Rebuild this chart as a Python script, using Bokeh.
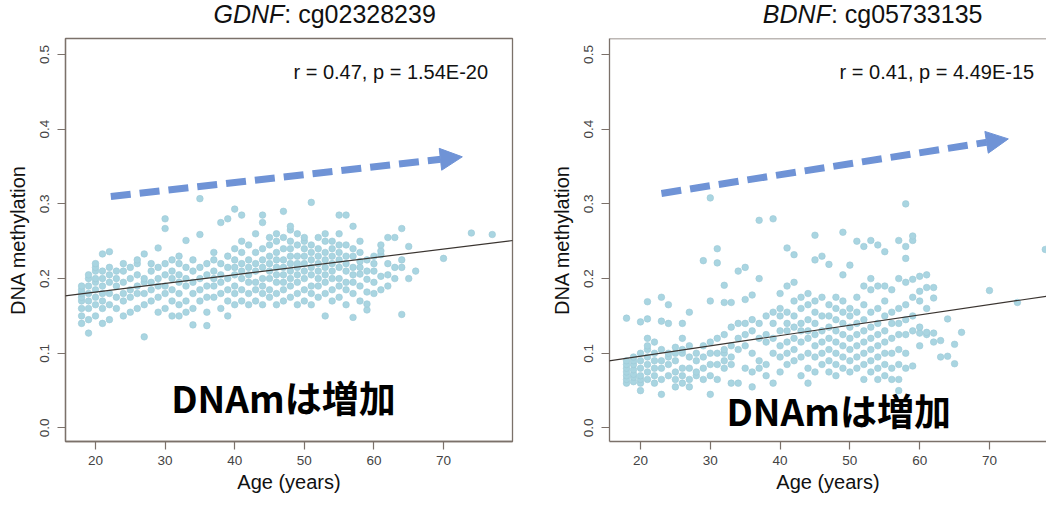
from bokeh.plotting import figure
from bokeh.layouts import row, column
from bokeh.models import (Label, Arrow, NormalHead, Slope, Span, FixedTicker,
                          PrintfTickFormatter, Range1d, ColumnDataSource)
from bokeh.core.properties import value
from bokeh.embed import file_html
from bokeh.resources import INLINE

# ---------------- data ----------------
x_ticks = [20, 30, 40, 50, 60, 70]
y_ticks = [0.0, 0.1, 0.2, 0.3, 0.4, 0.5]

gdnf_gene = "GDNF"
gdnf_probe = ": cg02328239"
gdnf_stats = "r = 0.47, p = 1.54E-20"
gdnf_slope = 0.00115
gdnf_intercept = 0.159
gdnf_ages = [18, 19, 20, 21, 22, 23, 24, 25, 26, 27, 28, 29, 30, 31, 32, 33, 34, 35,
             36, 37, 38, 39, 40, 41, 42, 43, 44, 45, 46, 47, 48, 49, 50, 51, 52, 53,
             54, 55, 56, 57, 58, 59, 60, 61, 62, 63, 64, 65, 66, 70, 74, 77]
gdnf_values = [
    [0.14, 0.15, 0.16, 0.17, 0.175, 0.18, 0.185, 0.19],
    [0.127, 0.145, 0.16, 0.17, 0.18, 0.19, 0.2, 0.205],
    [0.15, 0.165, 0.175, 0.185, 0.195, 0.2, 0.21, 0.215, 0.22],
    [0.14, 0.16, 0.17, 0.18, 0.19, 0.2, 0.21, 0.233],
    [0.145, 0.165, 0.18, 0.195, 0.205, 0.215, 0.236],
    [0.16, 0.175, 0.19, 0.2, 0.21],
    [0.15, 0.17, 0.18, 0.195, 0.21, 0.22],
    [0.155, 0.175, 0.185, 0.2, 0.215],
    [0.16, 0.18, 0.19, 0.205, 0.22, 0.225],
    [0.122, 0.165, 0.18, 0.195, 0.2, 0.233],
    [0.17, 0.185, 0.195, 0.21, 0.22],
    [0.155, 0.175, 0.19, 0.2, 0.215, 0.241],
    [0.16, 0.18, 0.19, 0.205, 0.22, 0.267, 0.28],
    [0.15, 0.17, 0.185, 0.2, 0.21, 0.225],
    [0.15, 0.165, 0.18, 0.195, 0.205, 0.22, 0.23],
    [0.155, 0.17, 0.19, 0.2, 0.215, 0.251],
    [0.138, 0.16, 0.18, 0.195, 0.21, 0.225],
    [0.17, 0.185, 0.2, 0.215, 0.259, 0.307],
    [0.137, 0.155, 0.175, 0.19, 0.205, 0.22],
    [0.175, 0.19, 0.2, 0.21, 0.225, 0.235],
    [0.16, 0.18, 0.195, 0.205, 0.22, 0.275],
    [0.15, 0.17, 0.185, 0.2, 0.215, 0.23, 0.28],
    [0.165, 0.18, 0.19, 0.205, 0.215, 0.225, 0.24, 0.293],
    [0.17, 0.185, 0.2, 0.21, 0.22, 0.235, 0.25, 0.285],
    [0.165, 0.18, 0.195, 0.205, 0.215, 0.225, 0.245],
    [0.17, 0.185, 0.195, 0.21, 0.22, 0.235, 0.26],
    [0.165, 0.18, 0.19, 0.2, 0.215, 0.225, 0.24, 0.275, 0.285],
    [0.175, 0.185, 0.2, 0.21, 0.22, 0.23, 0.245, 0.255],
    [0.165, 0.18, 0.195, 0.205, 0.215, 0.225, 0.235, 0.25, 0.26],
    [0.17, 0.185, 0.195, 0.205, 0.215, 0.225, 0.24, 0.255, 0.29],
    [0.175, 0.19, 0.2, 0.21, 0.22, 0.23, 0.24, 0.25, 0.265, 0.27],
    [0.165, 0.18, 0.195, 0.205, 0.215, 0.22, 0.23, 0.245, 0.26],
    [0.17, 0.185, 0.2, 0.21, 0.22, 0.23, 0.24, 0.25, 0.255],
    [0.165, 0.18, 0.19, 0.205, 0.215, 0.225, 0.235, 0.245, 0.302],
    [0.175, 0.19, 0.2, 0.21, 0.22, 0.23, 0.24, 0.255],
    [0.15, 0.18, 0.195, 0.205, 0.215, 0.225, 0.235, 0.25, 0.26],
    [0.17, 0.185, 0.2, 0.21, 0.22, 0.23, 0.24, 0.25],
    [0.175, 0.19, 0.2, 0.215, 0.225, 0.235, 0.245, 0.26, 0.285],
    [0.165, 0.185, 0.195, 0.21, 0.22, 0.23, 0.245, 0.285],
    [0.148, 0.18, 0.195, 0.205, 0.215, 0.23, 0.24, 0.27],
    [0.17, 0.19, 0.206, 0.215, 0.223, 0.235, 0.25],
    [0.158, 0.166, 0.182, 0.199, 0.21, 0.225],
    [0.18, 0.195, 0.21, 0.22, 0.23],
    [0.185, 0.203, 0.232, 0.237, 0.245],
    [0.19, 0.205, 0.22, 0.255],
    [0.2, 0.215, 0.255],
    [0.152, 0.215, 0.225, 0.267],
    [0.2, 0.243],
    [0.21],
    [0.227],
    [0.261],
    [0.259],
]

bdnf_gene = "BDNF"
bdnf_probe = ": cg05733135"
bdnf_stats = "r = 0.41, p = 4.49E-15"
bdnf_slope = 0.00138
bdnf_intercept = 0.0685
bdnf_ages = [18, 19, 20, 21, 22, 23, 24, 25, 26, 27, 28, 29, 30, 31, 32, 33, 34, 35,
             36, 37, 38, 39, 40, 41, 42, 43, 44, 45, 46, 47, 48, 49, 50, 51, 52, 53,
             54, 55, 56, 57, 58, 59, 60, 61, 62, 63, 64, 65, 66, 70, 74, 78]
bdnf_values = [
    [0.06, 0.065, 0.07, 0.075, 0.08, 0.085, 0.09, 0.147],
    [0.062, 0.068, 0.072, 0.078, 0.085, 0.09, 0.095],
    [0.05, 0.06, 0.065, 0.07, 0.08, 0.09, 0.1, 0.142],
    [0.065, 0.075, 0.085, 0.095, 0.105, 0.11, 0.12, 0.146, 0.169],
    [0.06, 0.07, 0.08, 0.09, 0.1, 0.115],
    [0.045, 0.065, 0.08, 0.09, 0.105, 0.143, 0.175],
    [0.07, 0.085, 0.095, 0.1, 0.14, 0.165],
    [0.055, 0.065, 0.075, 0.09, 0.1, 0.108],
    [0.06, 0.07, 0.08, 0.1, 0.105, 0.12, 0.14],
    [0.055, 0.065, 0.08, 0.095, 0.11, 0.155],
    [0.07, 0.075, 0.09, 0.1],
    [0.065, 0.08, 0.095, 0.11, 0.224],
    [0.045, 0.07, 0.085, 0.1, 0.115, 0.17, 0.308],
    [0.065, 0.085, 0.1, 0.12, 0.221, 0.24],
    [0.08, 0.09, 0.1, 0.105, 0.125, 0.168, 0.191],
    [0.06, 0.085, 0.095, 0.11, 0.135, 0.168],
    [0.06, 0.105, 0.12, 0.14, 0.21],
    [0.08, 0.11, 0.125, 0.14, 0.172, 0.215],
    [0.055, 0.075, 0.1, 0.13, 0.145, 0.178],
    [0.08, 0.09, 0.12, 0.14, 0.2, 0.278],
    [0.07, 0.085, 0.115, 0.125, 0.15],
    [0.06, 0.1, 0.12, 0.14, 0.155, 0.28],
    [0.075, 0.095, 0.11, 0.13, 0.15, 0.16, 0.18],
    [0.085, 0.1, 0.115, 0.13, 0.14, 0.155, 0.19, 0.241],
    [0.09, 0.105, 0.12, 0.135, 0.15, 0.17, 0.195, 0.232],
    [0.07, 0.095, 0.115, 0.13, 0.14, 0.16, 0.175],
    [0.06, 0.08, 0.1, 0.12, 0.13, 0.145, 0.165, 0.18],
    [0.075, 0.095, 0.11, 0.125, 0.14, 0.155, 0.17, 0.225, 0.258],
    [0.085, 0.1, 0.115, 0.13, 0.15, 0.175, 0.23],
    [0.075, 0.09, 0.105, 0.12, 0.135, 0.15, 0.165, 0.219],
    [0.07, 0.085, 0.1, 0.115, 0.13, 0.145, 0.16, 0.175],
    [0.08, 0.095, 0.11, 0.125, 0.14, 0.155, 0.17, 0.205, 0.262],
    [0.075, 0.09, 0.105, 0.12, 0.135, 0.15, 0.16, 0.218],
    [0.08, 0.095, 0.11, 0.125, 0.14, 0.155, 0.175, 0.25],
    [0.065, 0.085, 0.1, 0.115, 0.13, 0.145, 0.165, 0.19, 0.243],
    [0.075, 0.09, 0.105, 0.12, 0.135, 0.155, 0.185, 0.2, 0.251],
    [0.065, 0.08, 0.095, 0.11, 0.125, 0.14, 0.16, 0.19, 0.245],
    [0.07, 0.085, 0.1, 0.115, 0.13, 0.15, 0.17, 0.19, 0.236],
    [0.065, 0.08, 0.1, 0.12, 0.14, 0.155, 0.185],
    [0.05, 0.065, 0.085, 0.105, 0.125, 0.14, 0.16, 0.2, 0.251],
    [0.08, 0.1, 0.125, 0.145, 0.165, 0.195, 0.227, 0.243, 0.3],
    [0.083, 0.13, 0.15, 0.175, 0.199, 0.251, 0.257],
    [0.11, 0.127, 0.135, 0.17, 0.183, 0.203],
    [0.125, 0.128, 0.16, 0.188, 0.205],
    [0.115, 0.127, 0.174, 0.188],
    [0.095, 0.117],
    [0.096, 0.146],
    [0.086, 0.112],
    [0.128],
    [0.184],
    [0.168],
    [0.239],
]

big_text = "DNAmは増加"

# ---------------- styles ----------------
FRAME = "#7b716a"
POINT = "#A9D5E1"
ARROW = "#6F93D6"
SANS = "Liberation Sans"
Y_RANGE = (-0.0181, 0.5214)
TITLE_H = 36


def expand(ages, values):
    xs, ys = [], []
    for a, vs in zip(ages, values):
        xs.extend([a] * len(vs))
        ys.extend(vs)
    return xs, ys


def title_fig(width, gene, probe, split):
    t = figure(width=width, height=TITLE_H, output_backend="svg",
               toolbar_location=None, x_axis_type=None, y_axis_type=None,
               x_range=Range1d(0, width), y_range=Range1d(0, TITLE_H),
               min_border=0)
    t.outline_line_color = None
    t.grid.visible = False
    t.text(x=[split], y=[TITLE_H - 13], text=[gene], text_align="right",
           text_baseline="middle", text_font=value(SANS),
           text_font_size="25px", text_font_style="italic",
           text_color="#111111")
    t.text(x=[split], y=[TITLE_H - 13], text=[probe], text_align="left",
           text_baseline="middle", text_font=value(SANS),
           text_font_size="25px", text_color="#111111")
    return t


def panel(ages, values, stats, slope, intercept, x_range,
          width, border_left, border_right, arrow_xy, text_xy, outline=True):
    p = figure(width=width, height=496 - TITLE_H, output_backend="svg",
               toolbar_location=None,
               x_range=Range1d(*x_range), y_range=Range1d(*Y_RANGE),
               min_border_left=border_left, min_border_right=border_right,
               min_border_top=2, min_border_bottom=55)
    p.grid.visible = False
    p.background_fill_color = "white"
    p.border_fill_color = "white"
    p.outline_line_color = FRAME if outline else None
    p.outline_line_width = 1.3

    xs, ys = expand(ages, values)
    src = ColumnDataSource(dict(age=xs, meth=ys))
    p.scatter("age", "meth", source=src, size=6.6, fill_color=POINT,
              line_color="#9DCAD7", line_width=0.6)

    p.add_layout(Slope(gradient=slope, y_intercept=intercept,
                       line_color="#3a3430", line_width=1.2))

    for ax in (p.xaxis[0], p.yaxis[0]):
        ax.axis_line_color = FRAME
        ax.axis_line_width = 1.3
        ax.major_tick_line_color = FRAME
        ax.major_tick_line_width = 1.2
        ax.major_tick_out = 8
        ax.major_tick_in = 0
        ax.minor_tick_out = 0
        ax.minor_tick_in = 0
        ax.major_label_text_font = SANS
        ax.major_label_text_font_size = "13.5px"
        ax.major_label_text_color = "#444444"
        ax.axis_label_text_font = SANS
        ax.axis_label_text_font_size = "20px"
        ax.axis_label_text_font_style = "normal"
        ax.axis_label_text_color = "#111111"
    p.xaxis.ticker = FixedTicker(ticks=x_ticks)
    p.yaxis.ticker = FixedTicker(ticks=y_ticks)
    p.yaxis.formatter = PrintfTickFormatter(format="%.1f")
    p.yaxis.major_label_orientation = "vertical"
    p.xaxis.axis_label = "Age (years)"
    p.yaxis.axis_label = "DNA methylation"
    p.xaxis.major_label_standoff = 6
    p.xaxis.axis_label_standoff = 3
    p.yaxis.major_label_standoff = 8
    p.yaxis.axis_label_standoff = 9

    if not outline:
        p.add_layout(Span(location=Y_RANGE[1], dimension="width",
                          line_color=FRAME, line_width=1.3))

    p.add_layout(Label(x=76.4, y=0.477, text=stats, text_align="right",
                       text_baseline="middle", text_font=SANS,
                       text_font_size="20px", text_color="#111111"))

    (x0, y0, x1, y1) = arrow_xy
    p.add_layout(Arrow(x_start=x0, y_start=y0, x_end=x1, y_end=y1,
                       line_color=ARROW, line_width=7, line_dash="20 9",
                       end=NormalHead(size=22, fill_color=ARROW,
                                      line_color=ARROW, line_width=1)))

    p.add_layout(Label(x=text_xy[0], y=text_xy[1], text=big_text,
                       text_align="center", text_baseline="middle",
                       text_font="Noto Sans CJK JP", text_font_style="bold",
                       text_font_size="37px", text_color="#000000"))
    return p


t1 = title_fig(523, gdnf_gene, gdnf_probe, 256)
t2 = title_fig(523, bdnf_gene, bdnf_probe, 265)
p1 = panel(gdnf_ages, gdnf_values, gdnf_stats, gdnf_slope, gdnf_intercept,
           (15.69, 79.91), 523, 65, 11,
           (22.2, 0.310, 72.7, 0.363), (47.0, 0.042), outline=True)
p2 = panel(bdnf_ages, bdnf_values, bdnf_stats, bdnf_slope, bdnf_intercept,
           (15.56, 78.17), 523, 86, 0,
           (23.0, 0.314, 72.7, 0.387), (48.4, 0.0246), outline=False)

layout = row(column(t1, p1), column(t2, p2))
open("out.html", "w").write(file_html(layout, INLINE))
